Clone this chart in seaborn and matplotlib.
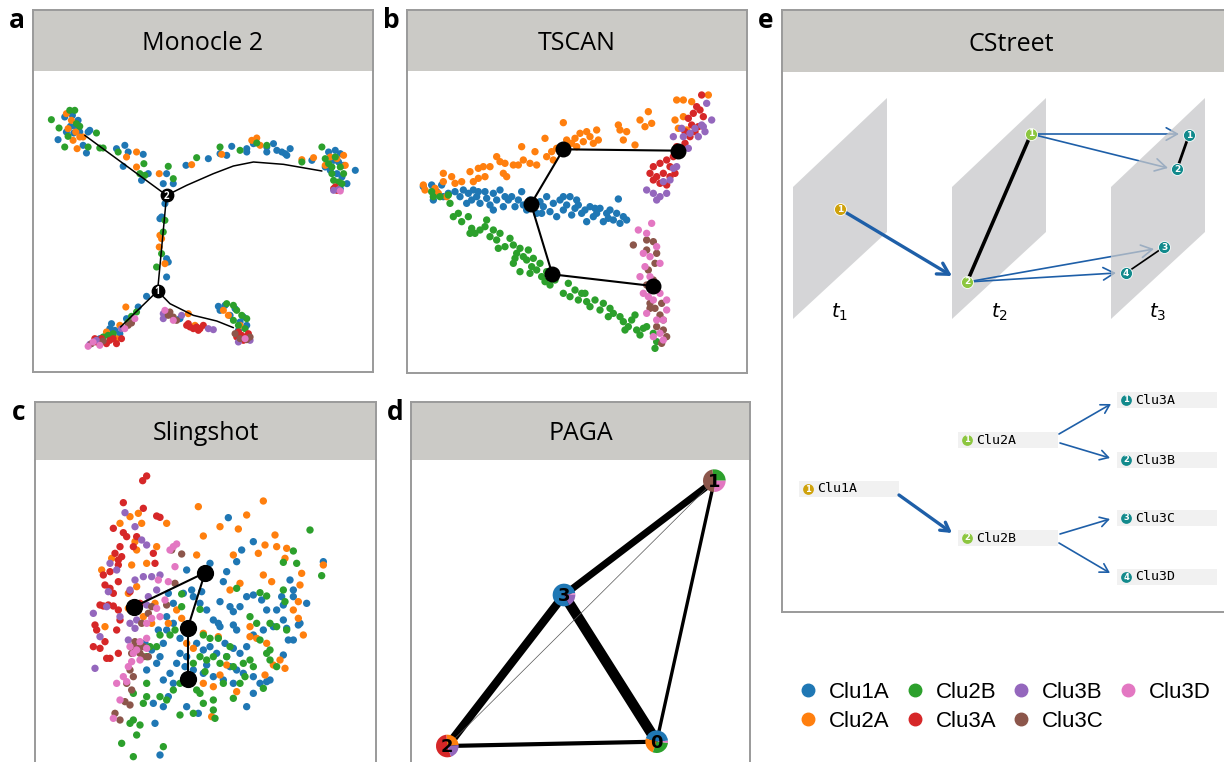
import numpy as np
import pandas as pd
import matplotlib
matplotlib.use('Agg')
import matplotlib.pyplot as plt
import seaborn as sns
from matplotlib.patches import Polygon, Wedge, Rectangle
from matplotlib.lines import Line2D

sns.set_style('white')
plt.rcParams['font.family'] = ['Open Sans', 'DejaVu Sans']
plt.rcParams['mathtext.fontset'] = 'dejavusans'
plt.rcParams['text.color'] = 'black'

W, H = 1224, 762

# cluster names and colours
clusters = ['Clu1A', 'Clu2A', 'Clu2B', 'Clu3A', 'Clu3B', 'Clu3C', 'Clu3D']
palette = ['#1f77b4', '#ff7f0e', '#2ca02c', '#d62728', '#9467bd', '#8c564b', '#e377c2']
farben = dict(zip(clusters, palette))

# ========================
# PODACI - panel a (Monocle 2), embedding coords
# ========================
a_pts = {
    'Clu1A': [(195, 350), (218, 345), (235, 360), (212, 378), (228, 378), (222, 398), (240, 395), (270, 390),
              (175, 418), (260, 458), (250, 435), (265, 395), (200, 395),
              (350, 445), (375, 435), (385, 455), (370, 498), (430, 462), (445, 520), (425, 540), (490, 550),
              (520, 550), (500, 520),
              (558, 495), (625, 475), (660, 460), (680, 465), (695, 438), (740, 445), (760, 430), (800, 440),
              (820, 430), (830, 450), (845, 455), (860, 465), (870, 445), (855, 460), (800, 455), (740, 455), (935, 480),
              (985, 455), (1005, 450), (1020, 460), (1000, 480), (1015, 485), (1030, 495), (1010, 520), (990, 510),
              (1025, 530), (1040, 550), (1065, 510), (975, 500), (1020, 565),
              (495, 610), (480, 655), (500, 775), (505, 785), (500, 830), (485, 650),
              (440, 888), (415, 920), (380, 955), (335, 970), (345, 990), (330, 985), (360, 1000), (300, 1015),
              (540, 955),
              (655, 918), (675, 915), (705, 925), (730, 950), (720, 965), (690, 945), (740, 975), (715, 990), (660, 930)],
    'Clu2A': [(200, 340), (215, 360), (228, 395), (205, 385), (240, 410), (220, 420), (232, 445), (250, 410),
              (380, 470), (410, 455), (478, 520), (410, 500),
              (575, 493), (665, 462), (770, 413), (780, 435), (905, 478), (940, 472), (755, 420),
              (975, 495), (1010, 475), (1030, 465), (1035, 495), (990, 470),
              (480, 705), (485, 715), (478, 740), (495, 790),
              (378, 920), (320, 995), (350, 1015), (360, 975),
              (565, 940), (585, 975),
              (685, 945), (670, 930), (720, 975)],
    'Clu2B': [(155, 358), (178, 383), (195, 440), (210, 330), (225, 330), (240, 378), (265, 440), (290, 398),
              (300, 443), (230, 370), (205, 408),
              (310, 443), (355, 455), (420, 520), (432, 490), (435, 525), (505, 498), (520, 535),
              (590, 472), (660, 440), (720, 450), (770, 428), (800, 435), (905, 485),
              (965, 440), (975, 475), (985, 490), (995, 500), (1005, 470), (1020, 500), (1030, 520), (995, 520),
              (1015, 545), (1000, 540), (1025, 550),
              (495, 660), (485, 760), (470, 800), (490, 695), (500, 590),
              (410, 935), (385, 965), (325, 1005), (340, 1000), (310, 1010), (395, 948),
              (680, 910), (700, 915), (710, 930), (725, 945), (740, 955), (700, 960), (715, 975), (735, 985)],
    'Clu3A': [(1000, 565), (1010, 570), (1005, 560),
              (290, 1025), (300, 1030), (320, 1030), (330, 1020), (350, 1030), (365, 1015), (305, 1015),
              (340, 1015), (285, 1015),
              (560, 975), (570, 980), (580, 985), (590, 980), (600, 985), (610, 975), (595, 990), (565, 970),
              (715, 995), (725, 1005), (740, 1010), (745, 1000), (710, 1010), (730, 1020)],
    'Clu3B': [(1000, 570), (1015, 568),
              (290, 1020), (365, 985), (270, 1032),
              (490, 940), (500, 935), (545, 945), (490, 955), (640, 988), (625, 985),
              (750, 1020), (715, 1025)],
    'Clu3C': [(385, 975), (395, 968), (275, 1030), (310, 1022),
              (505, 945), (520, 950), (510, 935), (530, 960),
              (720, 1015), (740, 1018), (705, 1000), (750, 1010)],
    'Clu3D': [(1020, 572),
              (265, 1038), (405, 955), (375, 985), (300, 1035), (280, 1025),
              (495, 930), (520, 960),
              (735, 1015)],
}
# Monocle tree (curves) and branch nodes
a_lines = [
    [(255, 405), (500, 585)],
    [(500, 585), (560, 555), (640, 520), (700, 497), (760, 485), (850, 492), (965, 512)],
    [(500, 585), (473, 872)],
    [(473, 872), (362, 980)],
    [(473, 872), (510, 910), (580, 945), (650, 962), (700, 982)],
]
a_node_x = [473, 500]
a_node_y = [872, 585]
a_node_lab = ['1', '2']

# ========================
# PODACI - panel b (TSCAN)
# ========================
b_pts = {
    'Clu1A': [(100, 560), (125, 555), (130, 600), (155, 555), (160, 590), (175, 580), (195, 575), (210, 590),
              (220, 570), (235, 580), (245, 600), (250, 570), (260, 590), (270, 610), (285, 575), (290, 595),
              (300, 615), (310, 580), (320, 600), (330, 570), (340, 620), (355, 600), (365, 590), (375, 620),
              (385, 600), (395, 575), (400, 615), (410, 630), (420, 600), (430, 615), (440, 640), (450, 605),
              (460, 620), (470, 590), (480, 635), (490, 610), (500, 650), (510, 600), (520, 630), (530, 615),
              (540, 590), (545, 645), (555, 625), (565, 615), (575, 640), (585, 630), (590, 665), (600, 620),
              (610, 650), (620, 640), (630, 625), (640, 665), (650, 640), (660, 630), (670, 660), (680, 640),
              (690, 670), (700, 650), (710, 660), (685, 597), (520, 590), (310, 630), (230, 610), (140, 575),
              (265, 575), (345, 590), (455, 640), (560, 600), (615, 625), (655, 655)],
    'Clu2A': [(100, 555), (105, 570), (135, 565), (160, 520), (160, 545), (195, 550), (215, 545), (240, 515),
              (250, 545), (265, 505), (280, 500), (285, 530), (265, 535), (320, 470), (330, 485), (345, 490),
              (340, 520), (350, 530), (370, 495), (385, 495), (395, 440), (400, 480), (420, 490), (435, 455),
              (440, 495), (465, 415), (470, 470), (485, 455), (490, 480), (500, 445), (520, 368), (530, 420),
              (545, 430), (555, 415), (570, 400), (580, 425), (590, 395), (600, 410), (610, 430), (620, 390),
              (625, 420), (560, 440), (685, 375), (690, 390), (710, 395), (700, 420), (735, 435), (750, 360),
              (765, 380), (775, 335), (785, 370), (860, 300), (880, 300), (855, 360), (890, 390), (865, 385),
              (905, 305), (955, 285), (880, 350), (170, 590), (145, 580), (300, 500), (185, 530)],
    'Clu2B': [(125, 575), (130, 590), (150, 590), (175, 585), (180, 610), (190, 650), (205, 640), (215, 665),
              (235, 650), (245, 685), (255, 700), (270, 690), (285, 680), (290, 660), (300, 710), (310, 690),
              (320, 720), (330, 700), (345, 740), (360, 715), (370, 735), (380, 760), (390, 745), (400, 770),
              (410, 780), (415, 750), (425, 800), (430, 775), (440, 810), (450, 790), (455, 830), (465, 845),
              (470, 815), (480, 855), (495, 840), (520, 880), (535, 850), (540, 890), (555, 870), (565, 900),
              (575, 880), (590, 905), (600, 920), (615, 900), (630, 930), (640, 910), (655, 950), (660, 925),
              (670, 940), (690, 950), (700, 965), (715, 980), (725, 960), (735, 945), (740, 990), (750, 1005),
              (760, 985), (770, 980), (790, 1000), (795, 1045), (800, 1025), (370, 790), (390, 815), (375, 775),
              (240, 700), (325, 745), (420, 820), (585, 880), (705, 990)],
    'Clu3A': [(935, 285), (920, 320), (930, 330), (910, 340), (940, 350), (895, 355), (905, 375), (925, 380),
              (900, 410), (885, 430), (860, 440), (875, 460), (850, 470), (830, 480), (840, 500), (810, 490),
              (790, 500), (780, 520), (800, 530), (820, 520), (840, 530), (855, 520), (810, 550), (830, 555),
              (790, 540), (870, 455), (915, 395), (885, 395)],
    'Clu3B': [(950, 310), (965, 360), (935, 375), (915, 385), (945, 395), (900, 400), (925, 410), (880, 410),
              (895, 445), (860, 500), (820, 545), (840, 540), (850, 505), (770, 570), (790, 580), (810, 590),
              (800, 600), (830, 580), (875, 385), (940, 380), (850, 410)],
    'Clu3C': [(730, 735), (770, 720), (790, 725), (770, 750), (800, 760), (795, 790), (775, 810), (790, 840),
              (770, 855), (800, 870), (780, 910), (795, 925), (815, 910), (780, 925), (810, 945), (820, 990),
              (830, 1010), (815, 1030), (800, 980), (820, 960)],
    'Clu3D': [(745, 690), (785, 670), (770, 700), (760, 760), (780, 770), (800, 740), (765, 800), (810, 790),
              (780, 830), (750, 830), (760, 880), (775, 890), (790, 900), (810, 880), (830, 900), (830, 930),
              (820, 960), (770, 940), (800, 960), (810, 1000), (820, 1020), (790, 1010)],
}
b_node_x = [520, 865, 423, 487, 788]
b_node_y = [448, 452, 612, 823, 858]
b_edges = [(0, 1), (0, 2), (2, 3), (3, 4)]

# ========================
# PODACI - panel c (Slingshot)
# ========================
c_pts = {
    'Clu1A': [(685, 383), (760, 455), (725, 480), (710, 515), (560, 540), (630, 520), (575, 600), (605, 605),
              (670, 575), (680, 545), (660, 635), (690, 650), (700, 665), (720, 650), (740, 620), (760, 615),
              (785, 630), (800, 660), (830, 660), (850, 645), (845, 620), (880, 620), (870, 570), (880, 600),
              (850, 690), (860, 715), (895, 705), (880, 750), (865, 750), (920, 640), (900, 700), (820, 710),
              (790, 720), (760, 735), (740, 770), (720, 790), (700, 775), (680, 800), (690, 830), (710, 840),
              (730, 850), (760, 860), (780, 880), (800, 875), (810, 870), (760, 910), (740, 950), (700, 880),
              (670, 870), (640, 860), (610, 850), (580, 840), (555, 830), (530, 820), (510, 850), (520, 880),
              (490, 870), (480, 800), (490, 760), (500, 720), (520, 700), (540, 745), (560, 730), (590, 760),
              (610, 780), (630, 770), (650, 790), (660, 710), (640, 690), (620, 660), (600, 640), (580, 620),
              (550, 610), (520, 640), (505, 610), (500, 680), (475, 720), (455, 780), (470, 820), (440, 840),
              (435, 760), (505, 920), (490, 950), (460, 940), (465, 1000), (480, 1095), (560, 950), (595, 970),
              (970, 515), (850, 795), (620, 825), (655, 700), (700, 705), (540, 790), (560, 800), (710, 720),
              (675, 760)],
    'Clu2A': [(595, 350), (790, 333), (740, 375), (390, 380), (415, 370), (360, 400), (425, 400), (500, 400),
              (405, 455), (470, 470), (410, 480), (395, 525), (335, 505), (305, 540), (440, 520), (410, 590),
              (385, 610), (430, 680), (465, 640), (315, 710), (385, 655), (610, 438), (660, 410), (715, 417),
              (825, 435), (830, 470), (860, 475), (775, 490), (795, 465), (700, 495), (590, 495), (720, 580),
              (690, 600), (790, 555), (815, 575), (855, 505), (900, 585), (905, 550), (895, 635), (880, 660),
              (895, 685), (910, 735), (855, 835), (840, 810), (820, 825), (795, 855), (750, 710), (770, 745),
              (800, 760), (680, 825), (660, 855), (640, 890), (610, 880), (635, 980), (710, 905), (560, 760),
              (530, 660), (505, 700), (455, 700), (610, 730), (655, 740), (750, 740), (970, 525), (545, 685),
              (580, 775)],
    'Clu2B': [(930, 420), (880, 483), (890, 520), (850, 517), (965, 557), (780, 608), (800, 618), (850, 600),
              (855, 635), (710, 595), (600, 658), (545, 612), (545, 650), (525, 720), (510, 735), (480, 735),
              (450, 770), (470, 770), (610, 735), (630, 745), (655, 745), (750, 680), (770, 700), (810, 700),
              (830, 710), (860, 720), (780, 750), (800, 790), (810, 810), (830, 830), (750, 810), (760, 830),
              (730, 820), (690, 770), (680, 800), (700, 830), (640, 800), (660, 820), (620, 810), (580, 820),
              (600, 800), (560, 860), (540, 880), (520, 900), (600, 910), (610, 940), (640, 960), (645, 985),
              (580, 970), (540, 975), (500, 930), (480, 920), (440, 920), (400, 910), (430, 940), (400, 990),
              (410, 1035), (420, 1005), (365, 1060), (400, 1100), (490, 1070), (390, 1000), (810, 780),
              (790, 895), (700, 925), (640, 930), (590, 900), (670, 880), (735, 860), (720, 880), (615, 845),
              (440, 880), (440, 800)],
    'Clu3A': [(440, 258), (428, 272), (370, 338), (430, 355), (470, 378), (480, 382), (340, 415), (370, 428),
              (380, 440), (360, 470), (345, 490), (365, 500), (355, 525), (330, 545), (310, 555), (315, 585),
              (330, 595), (355, 575), (340, 610), (325, 645), (310, 648), (340, 648), (355, 660), (360, 690),
              (285, 705), (290, 720), (350, 720), (315, 755), (300, 775), (330, 805), (320, 805), (355, 790),
              (400, 470), (410, 440), (460, 490), (465, 520), (355, 510), (390, 605), (420, 640), (300, 645),
              (280, 770)],
    'Clu3B': [(375, 368), (405, 410), (425, 450), (440, 465), (330, 520), (350, 540), (325, 605), (320, 650),
              (280, 670), (405, 570), (430, 560), (455, 560), (480, 555), (445, 620), (440, 645), (390, 700),
              (405, 715), (385, 750), (300, 740), (285, 835), (360, 680), (470, 600), (390, 600), (410, 690)],
    'Clu3C': [(515, 480), (545, 492), (525, 580), (500, 645), (455, 650), (445, 670), (425, 700), (405, 755),
              (400, 770), (415, 775), (430, 800), (420, 790), (395, 790), (390, 840), (400, 860), (380, 880),
              (395, 900), (375, 935), (390, 945), (360, 990), (345, 970), (430, 770), (445, 800)],
    'Clu3D': [(520, 470), (530, 462), (510, 480), (475, 570), (525, 530), (505, 575), (495, 630), (480, 680),
              (470, 655), (440, 700), (420, 755), (440, 745), (440, 775), (410, 780), (400, 790), (385, 830),
              (370, 860), (350, 880), (360, 930), (380, 875), (395, 815), (340, 985), (420, 810), (390, 770),
              (455, 685)],
}
c_node_x = [615, 403, 563, 563]
c_node_y = [548, 650, 715, 868]
c_edges = [(1, 0), (0, 2), (2, 3)]

# ========================
# PODACI - panel d (PAGA)
# ========================
d_node_lab = ['0', '1', '2', '3']
d_node_x = [800, 973, 172, 522]
d_node_y = [1055, 272, 1068, 615]
d_start = [5, 0, 5, 10]
# shares of Clu1A, Clu2A, Clu2B, Clu3A, Clu3B, Clu3C, Clu3D in each node
d_shares = [
    [0.44, 0.24, 0.29, 0.00, 0.00, 0.00, 0.03],
    [0.00, 0.00, 0.28, 0.00, 0.00, 0.47, 0.25],
    [0.00, 0.25, 0.00, 0.54, 0.21, 0.00, 0.00],
    [0.80, 0.00, 0.00, 0.00, 0.18, 0.00, 0.02],
]
d_edge_a = ['3', '3', '3', '2', '1', '2']
d_edge_b = ['1', '2', '0', '0', '0', '1']
d_edge_w = [5.0, 6.0, 7.5, 3.0, 2.4, 0.5]

# ========================
# PODACI - panel e (CStreet)
# ========================
e_node_x = [840, 1031, 967, 1189, 1177, 1164, 1126]
e_node_y = [209, 134, 282, 135, 169, 247, 273]
e_node_lab = ['1', '1', '2', '1', '2', '3', '4']
e_node_t = [1, 2, 2, 3, 3, 3, 3]
tocke_boje = {1: '#cfa20b', 2: '#8cc63f', 3: '#128a8c'}

tree_lab = ['Clu1A', 'Clu2A', 'Clu2B', 'Clu3A', 'Clu3B', 'Clu3C', 'Clu3D']
tree_num = ['1', '1', '2', '1', '2', '3', '4']
tree_t = [1, 2, 2, 3, 3, 3, 3]
tree_x = [799, 958, 958, 1117, 1117, 1117, 1117]
tree_y = [489, 440, 538, 400, 460, 518, 577]


# ========================
# POMOCNE FUNKCIJE
# ========================
fig = plt.figure(figsize=(W / 100, H / 100), dpi=100)
rub = '#9a9a9a'
siva = '#cbcac6'


def px_axes(x0, y0, x1, y1):
    return fig.add_axes([x0 / W, 1 - y1 / H, (x1 - x0) / W, (y1 - y0) / H])


def panel(x0, y0, yh, x1, y1, naslov, slovo, ox, oy, donji=True, tx=None):
    # header
    hax = px_axes(x0, y0, x1, yh)
    hax.set_facecolor(siva)
    hax.set_xticks([])
    hax.set_yticks([])
    for s in hax.spines.values():
        s.set_color(rub)
        s.set_linewidth(1.4)
    hax.spines['bottom'].set_visible(False)
    xc = 0.5 if tx is None else (tx - x0) / (x1 - x0)
    hax.text(xc, 0.45, naslov, ha='center', va='center', fontsize=18, transform=hax.transAxes)
    fig.text((x0 - 16) / W, 1 - (y0 + 10) / H, slovo, fontsize=19, fontweight='bold', ha='center', va='center')
    # data axes
    ax = px_axes(x0, yh, x1, y1)
    ax.set_xlim((x0 - ox) * 3, (x1 - ox) * 3)
    ax.set_ylim((y1 - oy) * 3, (yh - oy) * 3)
    ax.set_xticks([])
    ax.set_yticks([])
    ax.set_xlabel('')
    ax.set_ylabel('')
    for s in ax.spines.values():
        s.set_color(rub)
        s.set_linewidth(1.4)
    ax.spines['top'].set_visible(False)
    ax.spines['bottom'].set_visible(donji)
    return ax


def tocke(ax, pts, s=24):
    redovi = []
    for c in clusters:
        for x, y in pts[c]:
            redovi.append((x, y, c))
    df = pd.DataFrame(redovi, columns=['x', 'y', 'cluster'])
    sns.scatterplot(data=df, x='x', y='y', hue='cluster', hue_order=clusters, palette=farben,
                    s=s, linewidth=0, legend=False, ax=ax, zorder=2)
    ax.set_xlabel('')
    ax.set_ylabel('')


# ========================
# GRAFOVI
# ========================

# a. Monocle 2
ax = panel(33, 10, 71, 373, 372, 'Monocle 2', 'a', 0, 0)
ax.set_xlim(100, 1118)
ax.set_ylim(1115, 212)
tocke(ax, a_pts, s=26)
for ln in a_lines:
    xs, ys = zip(*ln)
    ax.plot(xs, ys, color='black', lw=1.1, zorder=3)
ax.scatter(a_node_x, a_node_y, s=80, color='black', zorder=4)
for x, y, t in zip(a_node_x, a_node_y, a_node_lab):
    ax.text(x, y + 3, t, color='white', fontsize=7, fontweight='bold', ha='center', va='center', zorder=5)

# b. TSCAN
ax = panel(407, 10, 71, 747, 373, 'TSCAN', 'b', 390, 0)
tocke(ax, b_pts, s=28)
for i, j in b_edges:
    ax.plot([b_node_x[i], b_node_x[j]], [b_node_y[i], b_node_y[j]], color='black', lw=1.5, zorder=3)
ax.scatter(b_node_x, b_node_y, s=110, color='black', zorder=4)

# c. Slingshot
ax = panel(35, 402, 460, 376, 762, 'Slingshot', 'c', 0, 390, donji=False)
tocke(ax, c_pts, s=28)
for i, j in c_edges:
    ax.plot([c_node_x[i], c_node_x[j]], [c_node_y[i], c_node_y[j]], color='black', lw=1.5, zorder=3)
ax.scatter(c_node_x, c_node_y, s=130, color='black', zorder=4)

# d. PAGA
ax = panel(411, 402, 460, 750, 762, 'PAGA', 'd', 390, 390, donji=False)
poz = {n: (x, y) for n, x, y in zip(d_node_lab, d_node_x, d_node_y)}
for a, b, w in zip(d_edge_a, d_edge_b, d_edge_w):
    boja = 'black' if w > 1 else '#555555'
    ax.plot([poz[a][0], poz[b][0]], [poz[a][1], poz[b][1]], color=boja, lw=w, zorder=2,
            solid_capstyle='butt')
for n, x, y, st, udio in zip(d_node_lab, d_node_x, d_node_y, d_start, d_shares):
    kut = st
    for c, f in zip(clusters, udio):
        if f <= 0:
            continue
        # y axis is flipped, so draw clockwise in data to look counter-clockwise
        ax.add_patch(Wedge((x, y), 34, -(kut + f * 360), -kut, color=farben[c], zorder=3, lw=0))
        kut += f * 360
    ax.text(x, y + 4, n, fontsize=13, fontweight='bold', ha='center', va='center', zorder=4,
            family='DejaVu Sans')

# e. CStreet
ax = panel(782, 10, 72, 1240, 612, 'CStreet', 'e', 0, 0, tx=1011)
ax.set_xlim(782, 1240)
ax.set_ylim(612, 72)
ax.spines['right'].set_visible(False)

# planes (t1, t2, t3)
ravni = [793, 952, 1111]
for k, x0 in enumerate(ravni):
    pl = Polygon([(x0, 187), (x0 + 94, 98), (x0 + 94, 232), (x0, 319)], closed=True,
                 facecolor='#c7c8ca', edgecolor='none', alpha=0.75, zorder=1 + 3 * k)
    ax.add_patch(pl)
    ax.text(x0 + 47, 312, '$t_{%d}$' % (k + 1), fontsize=14, ha='center', va='center', zorder=10)

plava = '#1e5fa8'


def strelica(x0, y0, x1, y1, lw, z, hl=0.8, hw=0.45):
    ax.annotate('', xy=(x1, y1), xytext=(x0, y0),
                arrowprops=dict(arrowstyle='->,head_length=%.2f,head_width=%.2f' % (hl, hw),
                                color=plava, lw=lw, shrinkA=0, shrinkB=0), zorder=z)


strelica(840, 209, 952, 276, 2.4, 2)
strelica(1031, 134, 1179, 134, 1.2, 5)
strelica(1031, 134, 1168, 168, 1.2, 5)
strelica(967, 282, 1154, 249, 1.2, 5)
strelica(967, 282, 1116, 273, 1.2, 5)

ax.plot([967, 1031], [282, 134], color='black', lw=2.6, zorder=6)
ax.plot([1189, 1177], [135, 169], color='black', lw=2.0, zorder=8)
ax.plot([1164, 1126], [247, 273], color='black', lw=1.2, zorder=8)
for x, y, t, n in zip(e_node_x, e_node_y, e_node_lab, e_node_t):
    z = 3 if n == 1 else (7 if n == 2 else 9)
    ax.scatter([x], [y], s=75, color=tocke_boje[n], edgecolor='white', linewidth=0.6, zorder=z)
    ax.text(x, y, t, color='white', fontsize=6.5, fontweight='bold', ha='center', va='center',
            zorder=z + 0.5, family='DejaVu Sans')

# lower tree
for lab, num, n, x, y in zip(tree_lab, tree_num, tree_t, tree_x, tree_y):
    ax.add_patch(Rectangle((x, y - 8), 100, 16, facecolor='#f1f1f1', edgecolor='none', zorder=1))
    ax.scatter([x + 9], [y], s=60, color=tocke_boje[n], zorder=3, linewidth=0)
    ax.text(x + 9, y, num, color='white', fontsize=6, fontweight='bold', ha='center', va='center',
            zorder=4, family='DejaVu Sans')
    ax.text(x + 18, y, lab, fontsize=9.5, family='DejaVu Sans Mono', ha='left', va='center', zorder=4)

strelica(899, 495, 952, 533, 2.4, 5, hl=0.6, hw=0.35)
strelica(1059, 434, 1111, 404, 1.2, 5, hl=0.6, hw=0.35)
strelica(1060, 443, 1110, 458, 1.2, 5, hl=0.6, hw=0.35)
strelica(1060, 534, 1110, 519, 1.2, 5, hl=0.6, hw=0.35)
strelica(1059, 543, 1110, 573, 1.2, 5, hl=0.6, hw=0.35)

# legend
ruke = [Line2D([], [], marker='o', ls='', color=farben[c], markersize=9) for c in clusters]
fig.legend(ruke, clusters, ncol=4, loc='upper left', bbox_to_anchor=(786 / W, 1 - 671 / H),
           frameon=False, prop={'family': 'Liberation Sans', 'size': 16},
           handlelength=1.0, handletextpad=0.45, columnspacing=0.6, labelspacing=0.36, borderpad=0)

plt.savefig('out.png', dpi=100)
